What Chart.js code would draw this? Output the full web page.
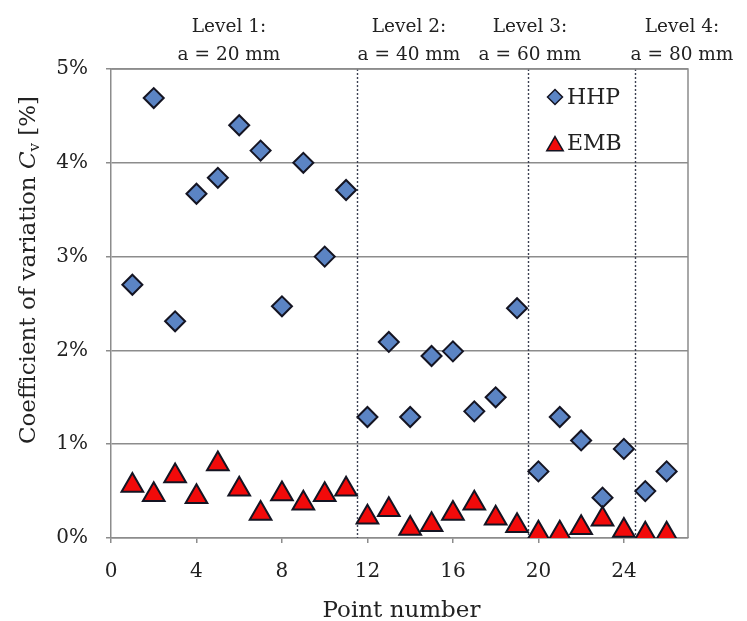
<!DOCTYPE html>
<html>
<head>
<meta charset="utf-8">
<script src="https://cdn.jsdelivr.net/npm/chart.js@4.4.1/dist/chart.umd.min.js"></script>
<style>
  html, body { margin: 0; padding: 0; background: #fff; }
  #wrap { width: 747px; height: 621px; position: relative; }
</style>
</head>
<body>
<div id="wrap"><canvas id="cvChart"></canvas></div>
<script>
/* Coefficient of variation per measuring point, HHP vs EMB */
var pointNumbers = [1, 2, 3, 4, 5, 6, 7, 8, 9, 10, 11, 12, 13, 14, 15, 16, 17, 18, 19, 20, 21, 22, 23, 24, 25, 26];
var hhpValues = [2.70, 4.69, 2.31, 3.67, 3.84, 4.40, 4.13, 2.47, 4.00, 3.00, 3.71, 1.29, 2.09,
                 1.29, 1.94, 1.99, 1.35, 1.50, 2.45, 0.71, 1.29, 1.04, 0.43, 0.95, 0.50, 0.71];
var embValues = [0.56, 0.46, 0.66, 0.44, 0.79, 0.52, 0.26, 0.47, 0.37, 0.46, 0.52, 0.22, 0.30,
                 0.10, 0.14, 0.26, 0.37, 0.21, 0.13, 0.05, 0.05, 0.11, 0.20, 0.08, 0.04, 0.04];
var xTicks = [0, 4, 8, 12, 16, 20, 24];
var yTicks = [0, 1, 2, 3, 4, 5];
var levelBounds = [11.5, 19.5, 24.5];
var levelLabels = [
    ['Level 1:', 'a = 20 mm'],
    ['Level 2:', 'a = 40 mm'],
    ['Level 3:', 'a = 60 mm'],
    ['Level 4:', 'a = 80 mm']
];

(function () {
    'use strict';

    var serif = "'DejaVu Serif', 'Liberation Serif', serif";
    var hhpFill = '#5B84C4', embFill = '#F20A0A', edge = '#141422', ink = '#222';

    function pts(ys) {
        return pointNumbers.map(function (x, i) { return { x: x, y: ys[i] }; });
    }

    // level dividers, top captions, frame, legend, axis titles
    var decor = {
        id: 'decor',
        beforeDatasetsDraw: function (chart) {
            var ctx = chart.ctx, a = chart.chartArea, xs = chart.scales.x;
            ctx.save();
            ctx.strokeStyle = '#3c4052';
            ctx.lineWidth = 1.4;
            ctx.setLineDash([2, 2]);
            levelBounds.forEach(function (b) {
                var px = Math.round(xs.getPixelForValue(b)) + 0.5;
                ctx.beginPath();
                ctx.moveTo(px, a.top);
                ctx.lineTo(px, a.bottom);
                ctx.stroke();
            });
            ctx.restore();
        },
        afterDraw: function (chart) {
            var ctx = chart.ctx, a = chart.chartArea;
            ctx.save();
            // plot frame (top + right)
            ctx.strokeStyle = '#8c8c8c';
            ctx.lineWidth = 1.5;
            ctx.beginPath();
            ctx.moveTo(a.left, a.top);
            ctx.lineTo(a.right, a.top);
            ctx.lineTo(a.right, a.bottom);
            ctx.stroke();

            // level captions above the plot
            var centers = [229, 409, 530, 682];
            ctx.fillStyle = ink;
            ctx.font = '18.5px ' + serif;
            ctx.textAlign = 'center';
            ctx.textBaseline = 'alphabetic';
            levelLabels.forEach(function (l, i) {
                ctx.fillText(l[0], centers[i], 32);
                ctx.fillText(l[1], centers[i], 60);
            });

            // legend
            var lx = 555;
            ctx.font = '22px ' + serif;
            ctx.textAlign = 'left';
            ctx.textBaseline = 'middle';
            chart.data.datasets.forEach(function (ds, i) {
                var ly = 97 + i * 46;
                var tri = ds.pointStyle === 'triangle';
                ctx.fillStyle = ds.backgroundColor;
                ctx.strokeStyle = ds.borderColor;
                ctx.lineWidth = 1.5;
                Chart.helpers.drawPoint(ctx, {
                    pointStyle: ds.pointStyle,
                    radius: tri ? 9.5 : 7.5,
                    rotation: 0, borderWidth: 1.5
                }, lx, ly + (tri ? 3 : 0));
                ctx.fillStyle = ink;
                ctx.fillText(ds.label, lx + 12, ly + 1);
            });

            // x axis title
            ctx.font = '23px ' + serif;
            ctx.textAlign = 'center';
            ctx.textBaseline = 'alphabetic';
            ctx.fillText('Point number', (a.left + a.right) / 2 + 2, 617);

            // y axis title with italic C and subscript v
            ctx.translate(29, 270);
            ctx.rotate(-Math.PI / 2);
            ctx.textAlign = 'left';
            ctx.textBaseline = 'middle';
            var parts = [
                { t: 'Coefficient of variation ', f: '23px ' + serif, dy: 0 },
                { t: 'C', f: 'italic 23px ' + serif, dy: 0 },
                { t: 'v', f: '15px ' + serif, dy: 6 },
                { t: ' [%]', f: '23px ' + serif, dy: 0 }
            ];
            var total = 0;
            parts.forEach(function (p) { ctx.font = p.f; p.w = ctx.measureText(p.t).width; total += p.w; });
            var cx = -total / 2;
            parts.forEach(function (p) {
                ctx.font = p.f;
                ctx.fillText(p.t, cx, p.dy);
                cx += p.w;
            });
            ctx.restore();
        }
    };

    new Chart(document.getElementById('cvChart'), {
        type: 'scatter',
        data: {
            datasets: [{
                label: 'HHP',
                data: pts(hhpValues),
                pointStyle: 'rectRot',
                pointRadius: 10,
                pointHoverRadius: 10,
                backgroundColor: hhpFill,
                borderColor: edge,
                borderWidth: 2,
                order: 1
            }, {
                label: 'EMB',
                data: pts(embValues),
                pointStyle: 'triangle',
                pointRadius: 12.5,
                pointHoverRadius: 12.5,
                backgroundColor: embFill,
                borderColor: edge,
                borderWidth: 2,
                order: 0
            }]
        },
        options: {
            responsive: true,
            maintainAspectRatio: false,
            animation: false,
            layout: { padding: { left: 0, top: 69, right: 59, bottom: 0 } },
            plugins: { legend: { display: false }, tooltip: { enabled: false } },
            scales: {
                x: {
                    type: 'linear',
                    min: 0, max: 27,
                    afterFit: function (s) { s.height = 83; },
                    afterBuildTicks: function (s) { s.ticks = xTicks.map(function (v) { return { value: v }; }); },
                    ticks: { color: ink, font: { family: serif, size: 20 }, padding: 17, maxRotation: 0 },
                    grid: { display: true, drawOnChartArea: false, drawTicks: true, tickLength: 5, color: '#8c8c8c', lineWidth: 1.5 },
                    border: { color: '#8c8c8c', width: 1.5 }
                },
                y: {
                    min: 0, max: 5,
                    afterFit: function (s) { s.width = 111; },
                    afterBuildTicks: function (s) { s.ticks = yTicks.map(function (v) { return { value: v }; }); },
                    ticks: {
                        color: ink, font: { family: serif, size: 20 }, padding: 18,
                        callback: function (v) { return v + '%'; }
                    },
                    grid: { color: '#8c8c8c', lineWidth: 1.5, tickLength: 5 },
                    border: { color: '#8c8c8c', width: 1.5 }
                }
            }
        },
        plugins: [decor]
    });
})();
</script>
</body>
</html>
